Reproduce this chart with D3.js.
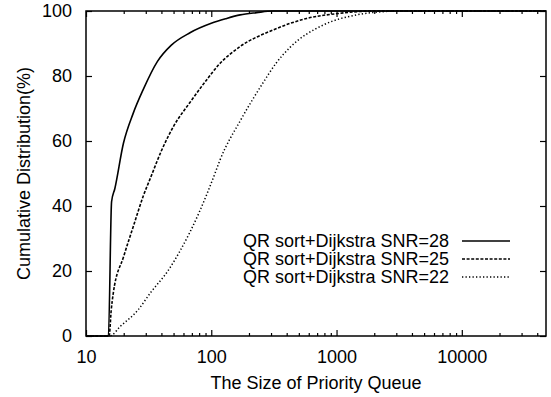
<!DOCTYPE html>
<html>
<head>
<meta charset="utf-8">
<script src="https://cdn.jsdelivr.net/npm/d3@7"></script>
<style>
  html, body { margin: 0; padding: 0; background: #fff; }
  svg text { font-family: "Liberation Sans", Arial, Helvetica, sans-serif; fill: #000; }
</style>
</head>
<body>
<svg id="chart" width="551" height="397"></svg>
<script>
// ---- data ----
const seriesNames = ["QR sort+Dijkstra SNR=28", "QR sort+Dijkstra SNR=25", "QR sort+Dijkstra SNR=22"];
const snr28X = [10, 15.1, 16.0, 17.0, 19.9, 23.8, 28.6, 37.2, 48, 67.6, 100, 130, 170, 230, 310, 47000];
const snr28Y = [0, 0, 41.3, 45.4, 59.3, 68.5, 75.8, 84.5, 89.5, 93.3, 96.2, 97.6, 98.8, 99.5, 100, 100];
const snr25X = [10, 15.3, 15.9, 16.5, 20.0, 24.0, 28.6, 33, 40, 49.8, 68, 91.8, 115, 169, 313, 577, 1070, 1950, 47000];
const snr25Y = [0, 0, 8, 13.1, 24.5, 34, 43, 49, 57, 64.4, 72, 78.8, 83.5, 89, 94.2, 97.7, 99.3, 100, 100];
const snr22X = [10, 15.5, 18.7, 26, 33, 45, 56, 80, 107, 117, 172, 255, 330, 425, 784, 1445, 2350, 3200, 47000];
const snr22Y = [0, 0, 2.9, 8, 13.5, 20, 26, 38, 50, 54, 66.5, 77.5, 84, 88.8, 95.7, 98.8, 99.8, 100, 100];
const xTickValues = [10, 100, 1000, 10000];
const xTickLabels = ["10", "100", "1000", "10000"];
const yTickValues = [0, 20, 40, 60, 80, 100];
const xDomain = [10, 47000];
const yDomain = [0, 100];
const xTitle = "The Size of Priority Queue";
const yTitle = "Cumulative Distribution(%)";

// ---- layout ----
const L = 86, R = 546, T = 11, B = 336;
const svg = d3.select("#chart");
const x = d3.scaleLog().domain(xDomain).range([L, R]);
const y = d3.scaleLinear().domain(yDomain).range([B, T]);

const minorTicks = [];
[10, 100, 1000, 10000].forEach(d => {
  for (let k = 2; k <= 9; k++) { const v = d * k; if (v < xDomain[1]) minorTicks.push(v); }
});

const fs = 18;
const axisStyle = g => {
  g.select(".domain").remove();
  g.selectAll("line").attr("stroke", "#000").attr("stroke-width", 1.2);
  g.selectAll("text").attr("font-size", fs).attr("font-family", '"Liberation Sans", Arial, sans-serif').attr("fill", "#000");
};

// bottom axis major
svg.append("g").attr("transform", `translate(0,${B})`)
  .call(d3.axisBottom(x).tickValues(xTickValues).tickFormat((d, i) => xTickLabels[i]).tickSizeInner(-6).tickSizeOuter(0).tickPadding(14))
  .call(axisStyle);
// bottom minor
svg.append("g").attr("transform", `translate(0,${B})`)
  .call(d3.axisBottom(x).tickValues(minorTicks).tickFormat("").tickSizeInner(-3).tickSizeOuter(0))
  .call(axisStyle);
// top axis (mirror)
svg.append("g").attr("transform", `translate(0,${T})`)
  .call(d3.axisTop(x).tickValues(xTickValues).tickFormat("").tickSizeInner(-6).tickSizeOuter(0))
  .call(axisStyle);
svg.append("g").attr("transform", `translate(0,${T})`)
  .call(d3.axisTop(x).tickValues(minorTicks).tickFormat("").tickSizeInner(-3).tickSizeOuter(0))
  .call(axisStyle);
// left axis
svg.append("g").attr("transform", `translate(${L},0)`)
  .call(d3.axisLeft(y).tickValues(yTickValues).tickFormat(d3.format("d")).tickSizeInner(-6).tickSizeOuter(0).tickPadding(14))
  .call(axisStyle);
// right axis (mirror)
svg.append("g").attr("transform", `translate(${R},0)`)
  .call(d3.axisRight(y).tickValues(yTickValues).tickFormat("").tickSizeInner(-6).tickSizeOuter(0))
  .call(axisStyle);

// frame
svg.append("rect").attr("x", L).attr("y", T).attr("width", R - L).attr("height", B - T)
  .attr("fill", "none").attr("stroke", "#000").attr("stroke-width", 1.5);

// titles
svg.append("text").attr("x", (L + R) / 2).attr("y", 389).attr("text-anchor", "middle")
  .attr("font-size", fs).text(xTitle);
svg.append("text").attr("transform", `translate(30,${(T + B) / 2}) rotate(-90)`).attr("text-anchor", "middle")
  .attr("font-size", fs).text(yTitle);

// series
const series = [
  { name: seriesNames[0], xs: snr28X, ys: snr28Y, dash: null, w: 1.6 },
  { name: seriesNames[1], xs: snr25X, ys: snr25Y, dash: "3,1.6", w: 1.6 },
  { name: seriesNames[2], xs: snr22X, ys: snr22Y, dash: "1.3,2.2", w: 1.5 }
];
const line = d3.line().x(d => x(d[0])).y(d => y(d[1])).curve(d3.curveMonotoneX);
const plot = svg.append("g");
series.forEach(s => {
  const pts = s.xs.map((v, i) => [v, s.ys[i]]);
  plot.append("path").datum(pts).attr("d", line)
    .attr("fill", "none").attr("stroke", "#000").attr("stroke-width", s.w)
    .attr("stroke-dasharray", s.dash);
});

// legend
const legY = [241, 259, 277];
series.forEach((s, i) => {
  svg.append("text").attr("x", 449).attr("y", legY[i]).attr("dy", "0.35em")
    .attr("text-anchor", "end").attr("font-size", fs).text(s.name);
  svg.append("line").attr("x1", 462).attr("x2", 510).attr("y1", legY[i]).attr("y2", legY[i])
    .attr("stroke", "#000").attr("stroke-width", s.w).attr("stroke-dasharray", s.dash);
});
</script>
</body>
</html>
